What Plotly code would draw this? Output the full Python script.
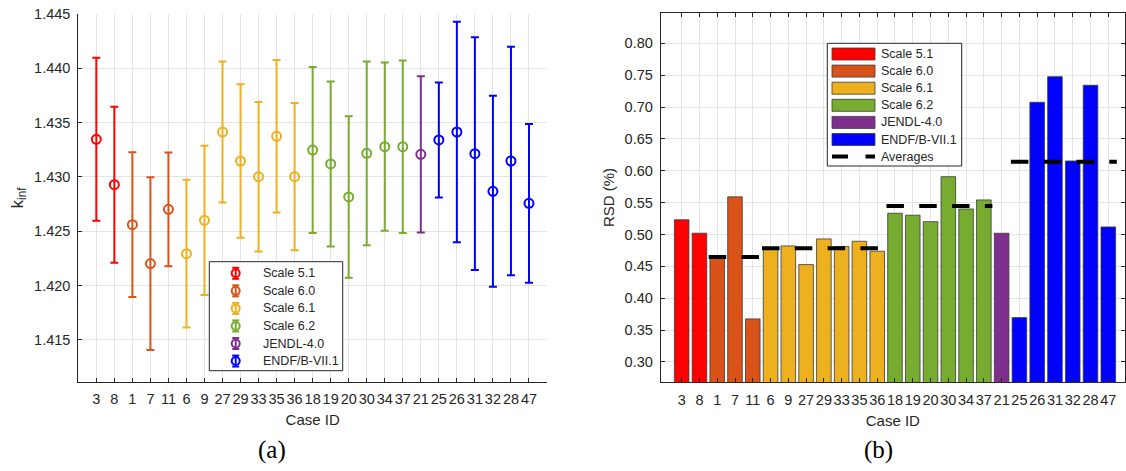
import plotly.graph_objects as go

# ---- data -------------------------------------------------------------
case_ids = ["3", "8", "1", "7", "11", "6", "9", "27", "29", "33", "35", "36",
            "18", "19", "20", "30", "34", "37", "21", "25", "26", "31", "32", "28", "47"]
libraries = ["Scale 5.1", "Scale 6.0", "Scale 6.1", "Scale 6.2", "JENDL-4.0", "ENDF/B-VII.1"]
group_sizes = [2, 3, 7, 6, 1, 6]
lib_colors = ["#FF0000", "#D95319", "#EDB120", "#77AC30", "#7E2F8E", "#0000FF"]

k_inf = [1.43347, 1.42929, 1.42561, 1.42203, 1.42702, 1.42294, 1.42601, 1.43414,
         1.43147, 1.43003, 1.43374, 1.43003, 1.43248, 1.43120, 1.42816, 1.43218,
         1.43279, 1.43279, 1.43209, 1.43341, 1.43414, 1.43215, 1.42868, 1.43147, 1.42758]
rsd_pct = [0.523, 0.502, 0.467, 0.559, 0.3675, 0.478, 0.482, 0.4527, 0.493, 0.481,
           0.4893, 0.4737, 0.5333, 0.5302, 0.5201, 0.5907, 0.540, 0.5542, 0.5019,
           0.3695, 0.7074, 0.7476, 0.6153, 0.7341, 0.5118]
averaged_libraries = ["Scale 6.0", "Scale 6.1", "Scale 6.2", "ENDF/B-VII.1"]

k_ticks = [1.415, 1.420, 1.425, 1.430, 1.435, 1.440, 1.445]
rsd_ticks = [0.30, 0.35, 0.40, 0.45, 0.50, 0.55, 0.60, 0.65, 0.70, 0.75, 0.80]

# ---- figure geometry (pixels) -----------------------------------------
W, H = 1126, 471
FONT = "Liberation Sans"
TXT = "#262626"
GRID = "#e4e4e4"


def px(x):
    return x / W


def py(y):
    return 1 - y / H


positions = list(range(1, len(case_ids) + 1))
sigma = [k * r / 100.0 for k, r in zip(k_inf, rsd_pct)]

# group slices
groups = []
start = 0
for lib, n, col in zip(libraries, group_sizes, lib_colors):
    groups.append((lib, col, start, start + n))
    start += n

fig = go.Figure()

# ---- (a) k_inf with 1-sigma error bars --------------------------------
for lib, col, a, b in groups:
    fig.add_trace(go.Scatter(
        x=positions[a:b], y=k_inf[a:b], mode="markers", name=lib,
        xaxis="x", yaxis="y", showlegend=False,
        marker=dict(symbol="circle-open", size=9, color=col, line=dict(width=2, color=col)),
        error_y=dict(type="data", array=sigma[a:b], visible=True,
                     color=col, thickness=2, width=4),
    ))

# ---- (b) RSD bars ----------------------------------------------------
for lib, col, a, b in groups:
    fig.add_trace(go.Bar(
        x=positions[a:b], y=rsd_pct[a:b], name=lib, width=0.82,
        xaxis="x2", yaxis="y2", showlegend=False,
        marker=dict(color=col, line=dict(color="#3a3a3a", width=0.8)),
    ))

# group averages as dashed black lines over each group
for lib, col, a, b in groups:
    if lib not in averaged_libraries:
        continue
    vals = rsd_pct[a:b]
    avg = sum(vals) / len(vals)
    fig.add_trace(go.Scatter(
        x=[positions[a] - 0.48, positions[b - 1] + 0.48], y=[avg, avg],
        mode="lines", xaxis="x2", yaxis="y2", showlegend=False, name="Averages",
        line=dict(color="black", width=4, dash="17.5px,15.3px"),
    ))

# ---- axes -----------------------------------------------------------
tick_font = dict(family=FONT, size=14.5, color=TXT)
title_font = dict(family=FONT, size=15, color=TXT)

common_x = dict(
    tickmode="array", tickvals=positions, ticktext=case_ids, tickangle=0,
    ticks="inside", ticklen=4, tickcolor=TXT, tickfont=tick_font,
    showgrid=True, gridcolor=GRID, gridwidth=1, zeroline=False,
    showline=True, linecolor=TXT, linewidth=1,
    title=dict(text="Case ID", font=title_font, standoff=8),
    ticklabelstandoff=4,
)

fig.update_layout(
    width=W, height=H,
    margin=dict(l=0, r=0, t=0, b=0, autoexpand=False),
    paper_bgcolor="white", plot_bgcolor="white",
    barmode="overlay",
    showlegend=False,
    xaxis=dict(domain=[px(78.3), px(547)], range=[0.0, 26.0], anchor="y", **common_x),
    yaxis=dict(
        domain=[py(381.7), py(14)], range=[1.41116, 1.445], anchor="x",
        tickmode="array", tickvals=k_ticks, ticktext=[f"{v:.3f}" for v in k_ticks],
        ticks="inside", ticklen=4, tickcolor=TXT, tickfont=tick_font,
        showgrid=True, gridcolor=GRID, zeroline=False,
        showline=True, linecolor=TXT, linewidth=1,
        title=dict(text="k<sub>inf</sub>", font=dict(family=FONT, size=17, color=TXT), standoff=6),
        ticklabelstandoff=4,
    ),
    xaxis2=dict(domain=[px(660.7), px(1125)], range=[-0.18, 25.94], anchor="y2",
                mirror="ticks", **common_x),
    yaxis2=dict(
        domain=[py(382.3), py(12.7)], range=[0.268, 0.848], anchor="x2",
        tickmode="array", tickvals=rsd_ticks, ticktext=[f"{v:.2f}" for v in rsd_ticks],
        ticks="inside", ticklen=4, tickcolor=TXT, tickfont=tick_font,
        showgrid=True, gridcolor=GRID, zeroline=False,
        showline=True, linecolor=TXT, linewidth=1, mirror="ticks",
        title=dict(text="RSD (%)", font=title_font, standoff=6),
        ticklabelstandoff=4,
    ),
)

# ---- legends --------------------------------------------------------
shapes = []
annotations = []
leg_font = dict(family=FONT, size=12.5, color=TXT)

# legend of panel (a): error-bar symbols
shapes.append(dict(type="rect", xref="paper", yref="paper",
                   x0=px(209.3), x1=px(342.7), y0=py(370.7), y1=py(261.7),
                   line=dict(color="#262626", width=1), fillcolor="white", layer="above"))
for i, (lib, col) in enumerate(zip(libraries, lib_colors)):
    yc = 273.3 + 17.55 * i
    xc = 235.7
    shapes.append(dict(type="line", xref="paper", yref="paper",
                       x0=px(xc), x1=px(xc), y0=py(yc - 5.5), y1=py(yc + 5.5),
                       line=dict(color=col, width=2), layer="above"))
    for dy in (-5.5, 5.5):
        shapes.append(dict(type="line", xref="paper", yref="paper",
                           x0=px(xc - 3.5), x1=px(xc + 3.5), y0=py(yc + dy), y1=py(yc + dy),
                           line=dict(color=col, width=2), layer="above"))
    shapes.append(dict(type="circle", xref="paper", yref="paper",
                       x0=px(xc - 4), x1=px(xc + 4), y0=py(yc + 4), y1=py(yc - 4),
                       line=dict(color=col, width=2), layer="above"))
    annotations.append(dict(text=lib, xref="paper", yref="paper", x=px(260.7), y=py(yc),
                            xanchor="left", yanchor="middle", showarrow=False, font=leg_font))

# legend of panel (b): colour swatches + averages line
shapes.append(dict(type="rect", xref="paper", yref="paper",
                   x0=px(827.3), x1=px(961.7), y0=py(166), y1=py(43.3),
                   line=dict(color="#262626", width=1), fillcolor="white", layer="above"))
for i, (lib, col) in enumerate(zip(libraries, lib_colors)):
    yc = 54 + 17.1 * i
    shapes.append(dict(type="rect", xref="paper", yref="paper",
                       x0=px(832), x1=px(875), y0=py(yc + 6), y1=py(yc - 6),
                       line=dict(color="#3a3a3a", width=0.8), fillcolor=col, layer="above"))
    annotations.append(dict(text=lib, xref="paper", yref="paper", x=px(878.5), y=py(yc),
                            xanchor="left", yanchor="middle", showarrow=False, font=leg_font))
yc = 54 + 17.1 * 6
shapes.append(dict(type="line", xref="paper", yref="paper",
                   x0=px(832), x1=px(875), y0=py(yc), y1=py(yc),
                   line=dict(color="black", width=4, dash="16px,17.5px"), layer="above"))
annotations.append(dict(text="Averages", xref="paper", yref="paper", x=px(878.5), y=py(yc),
                        xanchor="left", yanchor="middle", showarrow=False, font=leg_font))

# panel labels
for lab, xc in (("(a)", 271.7), ("(b)", 878.0)):
    annotations.append(dict(text=lab, xref="paper", yref="paper", x=px(xc), y=py(450),
                            xanchor="center", yanchor="middle", showarrow=False,
                            font=dict(family="Liberation Serif", size=25, color="black")))

fig.update_layout(shapes=shapes, annotations=annotations)

fig.write_html("out.html")
